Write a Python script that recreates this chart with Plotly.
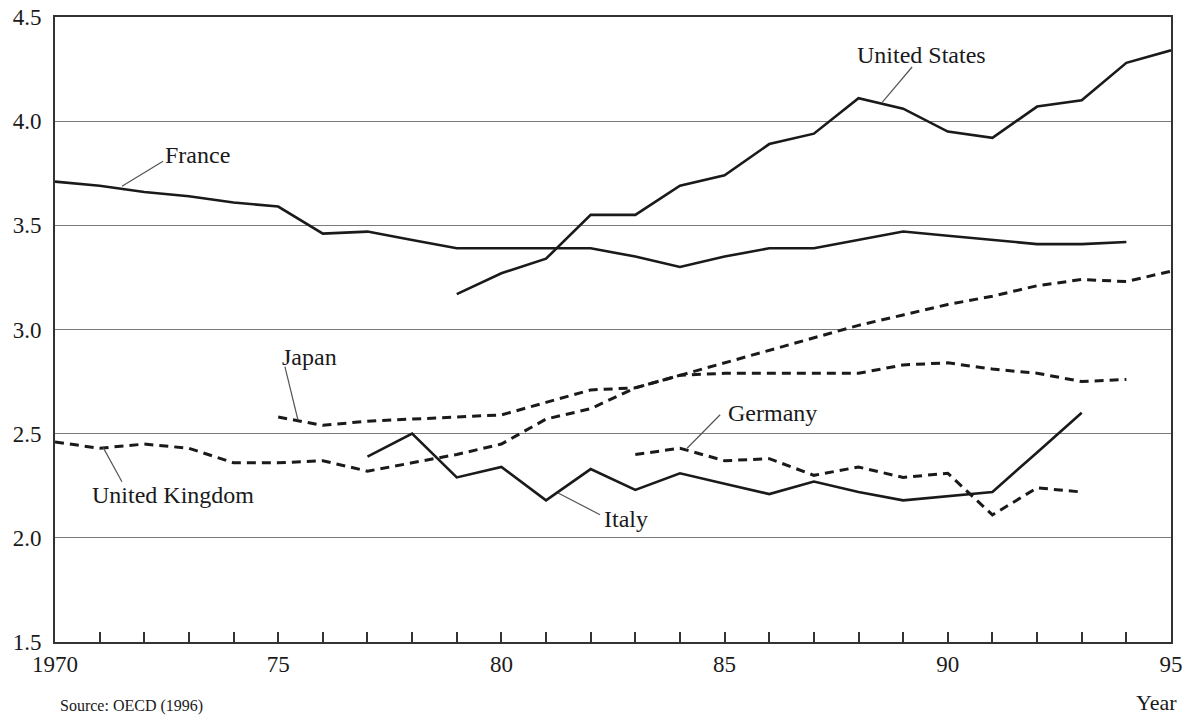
import plotly.graph_objects as go

# ---- data ----
years_france = list(range(1970, 1995))
france = [3.71, 3.69, 3.66, 3.64, 3.61, 3.59, 3.46, 3.47, 3.43, 3.39, 3.39, 3.39, 3.39,
          3.35, 3.30, 3.35, 3.39, 3.39, 3.43, 3.47, 3.45, 3.43, 3.41, 3.41, 3.42]

years_us = list(range(1979, 1996))
united_states = [3.17, 3.27, 3.34, 3.55, 3.55, 3.69, 3.74, 3.89, 3.94, 4.11, 4.06, 3.95,
                 3.92, 4.07, 4.10, 4.28, 4.34]

years_japan = list(range(1975, 1995))
japan = [2.58, 2.54, 2.56, 2.57, 2.58, 2.59, 2.65, 2.71, 2.72, 2.78, 2.79, 2.79, 2.79,
         2.79, 2.83, 2.84, 2.81, 2.79, 2.75, 2.76]

years_uk = list(range(1970, 1996))
united_kingdom = [2.46, 2.43, 2.45, 2.43, 2.36, 2.36, 2.37, 2.32, 2.36, 2.40, 2.45, 2.57,
                  2.62, 2.72, 2.78, 2.84, 2.90, 2.96, 3.02, 3.07, 3.12, 3.16, 3.21, 3.24,
                  3.23, 3.28]

years_italy = list(range(1977, 1994))
italy = [2.39, 2.50, 2.29, 2.34, 2.18, 2.33, 2.23, 2.31, 2.26, 2.21, 2.27, 2.22, 2.18,
         2.20, 2.22, 2.41, 2.60]

years_germany = list(range(1983, 1994))
germany = [2.40, 2.43, 2.37, 2.38, 2.30, 2.34, 2.29, 2.31, 2.11, 2.24, 2.22]

x_tick_values = list(range(1970, 1996))
x_tick_text = ["1970" if y == 1970 else (str(y)[2:] if y % 5 == 0 else "") for y in x_tick_values]
y_tick_values = [1.5, 2.0, 2.5, 3.0, 3.5, 4.0, 4.5]
y_tick_text = ["1.5", "2.0", "2.5", "3.0", "3.5", "4.0", "4.5"]

# label text, text position, leader line (start on series -> end near text)
labels = [
    ("France", 1972.42, 3.837, "left", (1971.50, 3.688), (1972.42, 3.808)),
    ("United States", 1989.40, 4.317, "center", (1988.53, 4.090), (1989.20, 4.260)),
    ("Japan", 1975.69, 2.870, "center", (1975.44, 2.568), (1975.15, 2.822)),
    ("United Kingdom", 1972.64, 2.207, "center", (1971.08, 2.433), (1971.50, 2.269)),
    ("Italy", 1982.79, 2.091, "center", (1981.27, 2.215), (1982.21, 2.111)),
    ("Germany", 1986.08, 2.598, "center", (1984.16, 2.430), (1984.90, 2.591)),
]

FONT = "Liberation Serif"
INK = "#1a1a1a"
solid = dict(color=INK, width=2.6)
dashed = dict(color=INK, width=3, dash="9px,6px")

fig = go.Figure()
series = [
    ("France", years_france, france, solid),
    ("United States", years_us, united_states, solid),
    ("Japan", years_japan, japan, dashed),
    ("United Kingdom", years_uk, united_kingdom, dashed),
    ("Italy", years_italy, italy, solid),
    ("Germany", years_germany, germany, dashed),
]
for name, xs, ys, ln in series:
    fig.add_trace(go.Scatter(x=xs, y=ys, mode="lines", name=name, line=ln,
                             showlegend=False, hoverinfo="x+y+name"))

for text, tx, ty, anchor, p0, p1 in labels:
    fig.add_annotation(x=tx, y=ty, text=text, showarrow=False, xanchor=anchor,
                       yanchor="middle", font=dict(family=FONT, size=24, color=INK))
    fig.add_shape(type="line", xref="x", yref="y", x0=p0[0], y0=p0[1], x1=p1[0], y1=p1[1],
                  line=dict(color="#555555", width=1.2))

fig.add_annotation(xref="paper", yref="paper", x=1.007, y=-0.097, text="Year",
                   showarrow=False, xanchor="right", yanchor="middle",
                   font=dict(family=FONT, size=22, color=INK))
fig.add_annotation(xref="paper", yref="paper", x=0.0027, y=-0.102, text="Source: OECD (1996)",
                   showarrow=False, xanchor="left", yanchor="middle",
                   font=dict(family=FONT, size=16, color=INK))

fig.update_layout(
    width=1195, height=716,
    margin=dict(l=55, r=24, t=17, b=74),
    paper_bgcolor="white", plot_bgcolor="white",
    font=dict(family=FONT, size=23, color=INK),
    xaxis=dict(range=[1970, 1995], tickvals=x_tick_values, ticktext=x_tick_text,
               ticks="inside", ticklen=10, tickwidth=1.5, tickcolor="#333",
               showgrid=False, zeroline=False, showline=True, linecolor="#333",
               linewidth=2, mirror=True, automargin=False,
               tickfont=dict(family=FONT, size=23, color=INK)),
    yaxis=dict(range=[1.5, 4.5], tickvals=y_tick_values, ticktext=y_tick_text,
               ticks="", showgrid=True, gridcolor="#7a7a7a", gridwidth=1.2,
               zeroline=False, showline=True, linecolor="#333", linewidth=2, mirror=True,
               ticklabelstandoff=7, automargin=False,
               tickfont=dict(family=FONT, size=23, color=INK)),
)

fig.write_html(
    "out.html",
    config={"displayModeBar": False},
    post_script="document.body.style.margin='0';document.body.style.overflow='hidden';",
)
